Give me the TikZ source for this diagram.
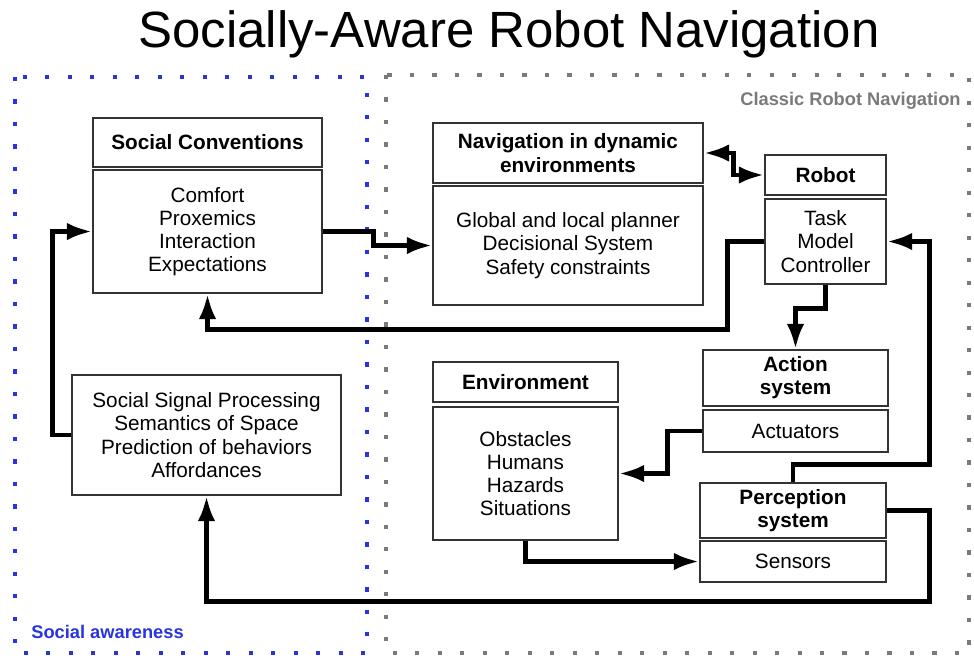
\documentclass[tikz,border=0pt]{standalone}
\usepackage{fontspec}
\setmainfont{Liberation Sans}
\usetikzlibrary{arrows.meta}
\definecolor{awareblue}{RGB}{40,52,222}
\definecolor{classicgray}{RGB}{122,122,122}
\tikzset{
  boxfont/.style={font=\fontsize{11.8}{13.2}\selectfont},
  headbox/.style={draw=black!80, line width=0.85pt, align=center, inner sep=0pt,
    font=\fontsize{11.8}{13.2}\selectfont\bfseries},
  bodybox/.style={draw=black!80, line width=0.85pt, align=center, inner sep=0pt, boxfont},
  dotframe/.style={line width=2.4pt, dash pattern=on 2.4pt off 10.4pt},
  framelabel/.style={font=\fontsize{10.4}{12}\selectfont\bfseries, inner sep=0pt},
  link/.style={line width=2.8pt, -{Latex[length=14.5pt,width=10pt]}},
}
\begin{document}
\begin{tikzpicture}[x=0.02cm,y=-0.02cm,line join=miter]
  \useasboundingbox (0,0) rectangle (974,657);
  % the two areas
  \draw [dotframe, draw=awareblue] (15,77) rectangle (367,653);
  \draw [dotframe, draw=classicgray] (386,75) rectangle (969,653);
  \node [font=\fontsize{29}{32}\selectfont, anchor=base, inner sep=0pt] (title) at (509,47) {Socially-Aware Robot Navigation};
  \node [framelabel, text=classicgray, anchor=east] (classiclbl) at (961,101) {Classic Robot Navigation};
  \node [framelabel, text=awareblue, anchor=west] (awarelbl) at (31,632) {Social awareness};

  % social side
  \node [headbox, minimum width=4.58cm, minimum height=0.98cm] (convHead) at (207.5,142.5) {Social Conventions};
  \node [bodybox, minimum width=4.58cm, minimum height=2.46cm] (convBody) at (207.5,231.5) {Comfort\\Proxemics\\Interaction\\Expectations};
  \node [bodybox, minimum width=5.38cm, minimum height=2.4cm] (sigBody) at (206.5,435) {Social Signal Processing\\Semantics of Space\\Prediction of behaviors\\Affordances};

  % robot side
  \node [headbox, minimum width=5.4cm, minimum height=1.2cm] (navHead) at (568,153) {Navigation in dynamic\\environments};
  \node [bodybox, minimum width=5.4cm, minimum height=2.38cm] (navBody) at (568,245.5) {Global and local planner\\Decisional System\\Safety constraints};
  \node [headbox, minimum width=2.42cm, minimum height=0.8cm] (robotHead) at (825.5,175) {Robot};
  \node [bodybox, minimum width=2.42cm, minimum height=1.7cm] (robotBody) at (825.5,241.5) {Task\\Model\\Controller};
  \node [headbox, minimum width=3.7cm, minimum height=1.12cm] (actHead) at (795.5,378) {Action\\system};
  \node [bodybox, minimum width=3.7cm, minimum height=0.84cm] (actBody) at (795.5,431) {Actuators};
  \node [headbox, minimum width=3.7cm, minimum height=0.8cm] (envHead) at (525.5,382) {Environment};
  \node [bodybox, minimum width=3.7cm, minimum height=2.66cm] (envBody) at (525.5,473.5) {Obstacles\\Humans\\Hazards\\Situations};
  \node [headbox, minimum width=3.72cm, minimum height=1.1cm] (percHead) at (793,510.5) {Perception\\system};
  \node [bodybox, minimum width=3.72cm, minimum height=0.82cm] (percBody) at (793,561.5) {Sensors};

  % links
  \draw [link] (convBody.east) -- ++(51,0) |- (navBody.west);
  \draw [link, {Latex[length=14.5pt,width=10pt]}-{Latex[length=14.5pt,width=10pt]}] (navHead.east) -- ++(30,0) |- (robotHead.west);
  \draw [link] (robotBody.west) -- ++(-37,0) -- ++(0,88) -| (convBody.south);
  \draw [link] (robotBody.south) -- ++(0,24) -| (actHead.north);
  \draw [link] (percHead.north) -- ++(0,-18) -| ([xshift=0.86cm]robotBody.east) -- (robotBody.east);
  \draw [link] (actBody.west) -- ++(-35,0) |- (envBody.east);
  \draw [link] (envBody.south) |- (percBody.west);
  \draw [link] (percHead.east) -- ++(43,0) -- ++(0,91) -| (sigBody.south);
  \draw [link] (sigBody.west) -- ++(-19,0) |- (convBody.west);
\end{tikzpicture}
\end{document}
